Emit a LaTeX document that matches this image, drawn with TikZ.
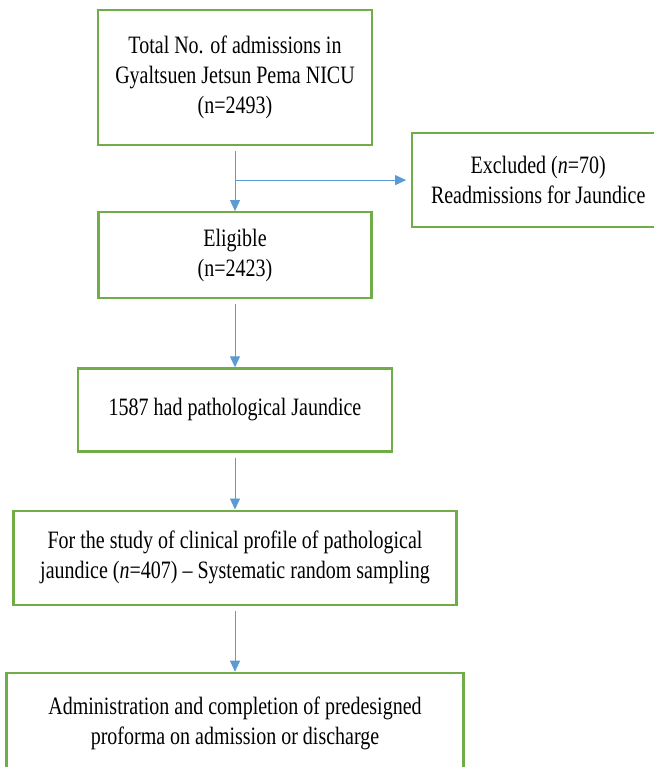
\documentclass[tikz,border=0pt]{standalone}
\usepackage{fontspec}
\setmainfont[FakeStretch=0.8]{Liberation Serif}
\usetikzlibrary{positioning,arrows.meta}
\definecolor{boxgreen}{HTML}{70AD47}
\definecolor{arrowblue}{HTML}{5B9BD5}

\begin{document}
\begin{tikzpicture}[
    x=1pt, y=1pt,
    stage/.style={rectangle, draw=boxgreen, line width=2.2pt, align=center, fill=white, inner sep=2pt, font=\fontsize{25pt}{30pt}\selectfont},
    arrow/.style={-{Triangle[width=10pt,length=11pt]}, draw=arrowblue, line width=0.9pt, shorten <=5pt}
]
\useasboundingbox (0,0) rectangle (653,-767);

\node[stage, minimum width=274pt, minimum height=135pt] (total) at (235,-77.5) {Total No. of admissions in\\Gyaltsuen Jetsun Pema NICU\\(n=2493)};
\node[stage, minimum width=273pt, minimum height=86pt, below=65pt of total] (eligible) {Eligible\\(n=2423)};
\node[stage, minimum width=314pt, minimum height=83pt, below=68pt of eligible] (patho) {1587 had pathological Jaundice};
\node[stage, minimum width=443pt, minimum height=94pt, below=57pt of patho] (study) {For the study of clinical profile of pathological\\jaundice (\textit{n}=407) -- Systematic random sampling};
\node[stage, minimum width=457pt, minimum height=102pt, below=66pt of study] (proforma) {Administration and completion of predesigned\\proforma on admission or discharge};
\node[stage, minimum width=252pt, minimum height=94pt, right=38pt of total.south east, yshift=-34pt] (excluded) {Excluded (\textit{n}=70)\\Readmissions for Jaundice};

\coordinate (split) at (total.south |- excluded.west);

\draw[arrow] (total) -- (eligible);
\draw[arrow, shorten <=0pt, shorten >=5pt] (split) -- (excluded);
\draw[arrow] (eligible) -- (patho);
\draw[arrow] (patho) -- (study);
\draw[arrow] (study) -- (proforma);
\end{tikzpicture}
\end{document}
